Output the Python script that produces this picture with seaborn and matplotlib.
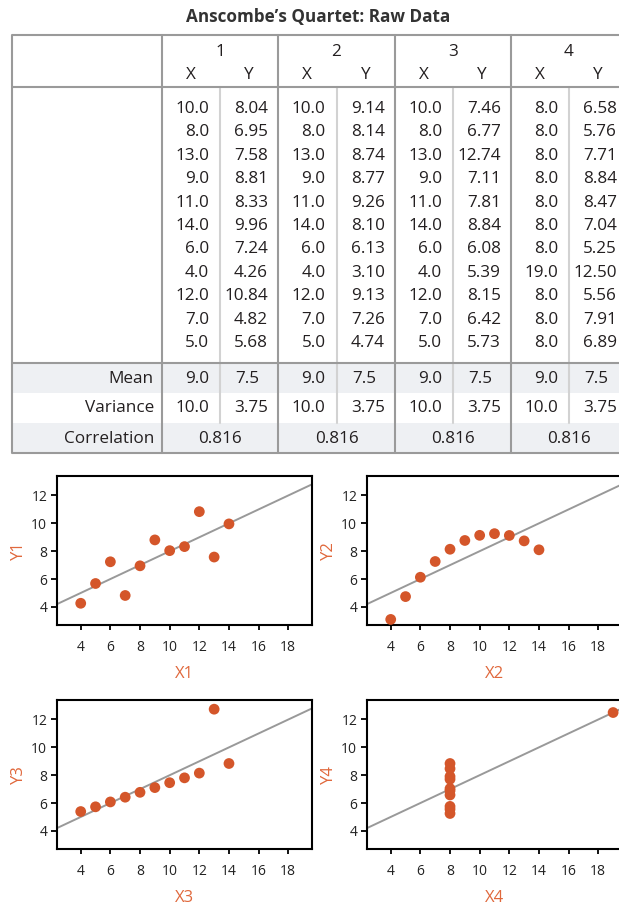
import numpy as np
import matplotlib
matplotlib.use("Agg")
import matplotlib.pyplot as plt
from matplotlib.patches import Rectangle
import seaborn as sns

# Anscombe's quartet
x1 = [10.0, 8.0, 13.0, 9.0, 11.0, 14.0, 6.0, 4.0, 12.0, 7.0, 5.0]
y1 = [8.04, 6.95, 7.58, 8.81, 8.33, 9.96, 7.24, 4.26, 10.84, 4.82, 5.68]
x2 = [10.0, 8.0, 13.0, 9.0, 11.0, 14.0, 6.0, 4.0, 12.0, 7.0, 5.0]
y2 = [9.14, 8.14, 8.74, 8.77, 9.26, 8.10, 6.13, 3.10, 9.13, 7.26, 4.74]
x3 = [10.0, 8.0, 13.0, 9.0, 11.0, 14.0, 6.0, 4.0, 12.0, 7.0, 5.0]
y3 = [7.46, 6.77, 12.74, 7.11, 7.81, 8.84, 6.08, 5.39, 8.15, 6.42, 5.73]
x4 = [8.0, 8.0, 8.0, 8.0, 8.0, 8.0, 8.0, 19.0, 8.0, 8.0, 8.0]
y4 = [6.58, 5.76, 7.71, 8.84, 8.47, 7.04, 5.25, 12.50, 5.56, 7.91, 6.89]

set_names = ["1", "2", "3", "4"]
mean_x = ["9.0", "9.0", "9.0", "9.0"]
mean_y = ["7.5", "7.5", "7.5", "7.5"]
var_x = ["10.0", "10.0", "10.0", "10.0"]
var_y = ["3.75", "3.75", "3.75", "3.75"]
corr = ["0.816", "0.816", "0.816", "0.816"]
row_labels = ["Mean", "Variance", "Correlation"]

xs = [x1, x2, x3, x4]
ys = [y1, y2, y3, y4]

sns.set_style("white")
plt.rcParams["font.family"] = ["Open Sans", "DejaVu Sans"]

W, H = 619, 911
fig = plt.figure(figsize=(W / 100, H / 100), dpi=100)

# ── table, drawn in pixel coordinates ───────────────────────────
tab = fig.add_axes([0, 0, 1, 1])
tab.set_xlim(0, W)
tab.set_ylim(H, 0)
tab.axis("off")

txt = "#231f20"
major = "#9a9a9a"
minor = "#d2d2d2"
band = "#eef0f3"
fs = 12.3

left, right = 12, 640
top, head_bot, body_bot, var_bot, bottom = 35, 87, 363, 423, 453
groups = [162, 278, 395, 511, 627]

tab.add_patch(Rectangle((left, body_bot), right - left, 30, color=band, lw=0))
tab.add_patch(Rectangle((left, var_bot), right - left, bottom - var_bot, color=band, lw=0))

for yy in [top, head_bot, body_bot, bottom]:
    tab.plot([left, right], [yy, yy], color=major, lw=1.5, solid_capstyle="butt")
tab.plot([left, left], [top, bottom], color=major, lw=1.5)
for gx in groups[:-1]:
    tab.plot([gx, gx], [top, bottom], color=major, lw=1.5)

tab.text(318, 17, "Anscombe’s Quartet: Raw Data", ha="center", va="center",
         fontsize=12.3, fontweight="bold", color="#333333")

row_h = 23.4
for g in range(4):
    g0, g1 = groups[g], groups[g + 1]
    mid = (g0 + g1) / 2
    tab.plot([mid, mid], [head_bot, var_bot], color=minor, lw=1.5, zorder=1)
    tab.text(mid, 52, set_names[g], ha="center", va="center", fontsize=fs, color=txt)
    tab.text((g0 + mid) / 2, 75, "X", ha="center", va="center", fontsize=fs, color=txt)
    tab.text((mid + g1) / 2, 75, "Y", ha="center", va="center", fontsize=fs, color=txt)
    xr, yr = mid - 11, g1 - 10
    for i, (xv, yv) in enumerate(zip(xs[g], ys[g])):
        yy = 109 + i * row_h
        tab.text(xr, yy, f"{xv:.1f}", ha="right", va="center", fontsize=fs, color=txt)
        tab.text(yr, yy, f"{yv:.2f}", ha="right", va="center", fontsize=fs, color=txt)
    tab.text(xr, 379, mean_x[g], ha="right", va="center", fontsize=fs, color=txt)
    tab.text(yr - 9, 379, mean_y[g], ha="right", va="center", fontsize=fs, color=txt)
    tab.text(xr, 408, var_x[g], ha="right", va="center", fontsize=fs, color=txt)
    tab.text(yr, 408, var_y[g], ha="right", va="center", fontsize=fs, color=txt)
    tab.text(mid, 439, corr[g], ha="center", va="center", fontsize=fs, color=txt)

for lab, yy in zip(row_labels, [379, 408, 439]):
    tab.text(154, yy, lab, ha="right", va="center", fontsize=fs, color=txt)

# ── four scatter plots ──────────────────────────────────────────
dot = "#d4562a"
lab_col = "#e0683c"
spots = [(57, 476), (367, 476), (57, 700), (367, 700)]

for k, (px, py) in enumerate(spots):
    ax = fig.add_axes([px / W, 1 - (py + 149) / H, 255 / W, 149 / H])
    ax.set_xlim(2.4, 19.6)
    ax.set_ylim(2.7, 13.4)
    sns.regplot(x=np.array(xs[k]), y=np.array(ys[k]), ax=ax, scatter=False,
                ci=None, truncate=False, color="#999999",
                line_kws=dict(lw=1.4, zorder=1))
    sns.scatterplot(x=xs[k], y=ys[k], ax=ax, color=dot, s=60,
                    edgecolor="none", linewidth=0, zorder=3)
    ax.set_xlim(2.4, 19.6)
    ax.set_ylim(2.7, 13.4)
    ax.set_xticks(range(4, 19, 2))
    ax.set_yticks(range(4, 13, 2))
    for sp in ax.spines.values():
        sp.set_color("black")
        sp.set_linewidth(1.5)
    ax.tick_params(axis="x", direction="out", length=3.5, width=1.3,
                   pad=7, labelsize=10, colors="black", labelcolor="#222222")
    ax.tick_params(axis="y", direction="out", length=4, width=1.3,
                   pad=3, labelsize=10, colors="black", labelcolor="#222222")
    ax.tick_params(bottom=True, left=True)
    ax.set_xlabel(f"X{k + 1}", color=lab_col, fontsize=12, labelpad=8)
    ax.set_ylabel(f"Y{k + 1}", color=lab_col, fontsize=12, labelpad=3)
    ax.grid(False)

plt.savefig("out.png", dpi=100)
